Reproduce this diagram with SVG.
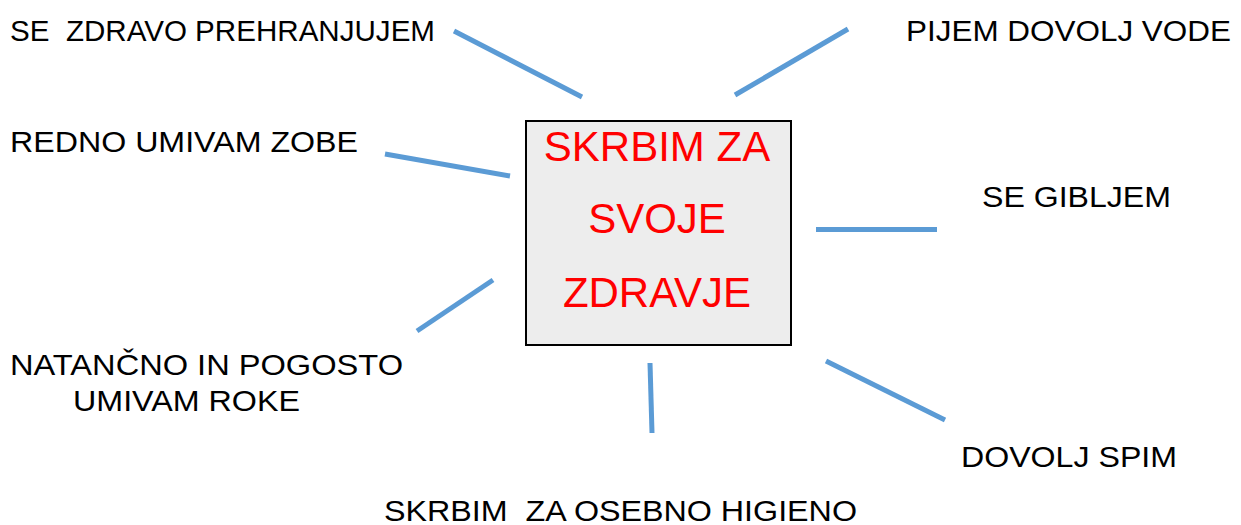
<svg xmlns="http://www.w3.org/2000/svg" width="1241" height="525" viewBox="0 0 1241 525">
<style>
.lbl{font-family:"Liberation Sans",Arial,sans-serif;font-size:30px;fill:#000}
.ctr{font-family:"Liberation Sans",Arial,sans-serif;font-size:42px;fill:#FF0000;text-anchor:middle}
.con{stroke:#5B9BD5;stroke-width:5;fill:none}
</style>
<rect width="1241" height="525" fill="#FFFFFF"/>
<g id="connectors">
<line class="con" x1="454" y1="31" x2="582" y2="97"/>
<line class="con" x1="735" y1="95" x2="848" y2="29"/>
<line class="con" x1="385" y1="154" x2="510" y2="176"/>
<line class="con" x1="816" y1="229.5" x2="937" y2="229.5"/>
<line class="con" x1="493" y1="280" x2="417" y2="331"/>
<line class="con" x1="650" y1="363" x2="652" y2="433"/>
<line class="con" x1="826" y1="361" x2="945" y2="420"/>
</g>
<g id="center">
<rect x="526" y="121" width="265" height="224" fill="#EDEDED" stroke="#000" stroke-width="2"/>
<text class="ctr" x="657" y="161">SKRBIM ZA</text>
<text class="ctr" x="657" y="233">SVOJE</text>
<text class="ctr" x="657" y="307">ZDRAVJE</text>
</g>
<g id="n-prehrana"><text class="lbl" x="10" y="41" xml:space="preserve" textLength="425" lengthAdjust="spacingAndGlyphs">SE  ZDRAVO PREHRANJUJEM</text></g>
<g id="n-voda"><text class="lbl" x="906" y="41" textLength="325" lengthAdjust="spacingAndGlyphs">PIJEM DOVOLJ VODE</text></g>
<g id="n-zobe"><text class="lbl" x="10" y="151.5" textLength="348" lengthAdjust="spacingAndGlyphs">REDNO UMIVAM ZOBE</text></g>
<g id="n-gibanje"><text class="lbl" x="982" y="207" textLength="189" lengthAdjust="spacingAndGlyphs">SE GIBLJEM</text></g>
<g id="n-roke"><text class="lbl" x="10" y="375" textLength="393" lengthAdjust="spacingAndGlyphs">NATANČNO IN POGOSTO</text><text class="lbl" x="73" y="411" textLength="227" lengthAdjust="spacingAndGlyphs">UMIVAM ROKE</text></g>
<g id="n-higiena"><text class="lbl" x="384" y="521" xml:space="preserve" textLength="473" lengthAdjust="spacingAndGlyphs">SKRBIM  ZA OSEBNO HIGIENO</text></g>
<g id="n-spanje"><text class="lbl" x="961" y="467" textLength="216" lengthAdjust="spacingAndGlyphs">DOVOLJ SPIM</text></g>
</svg>
